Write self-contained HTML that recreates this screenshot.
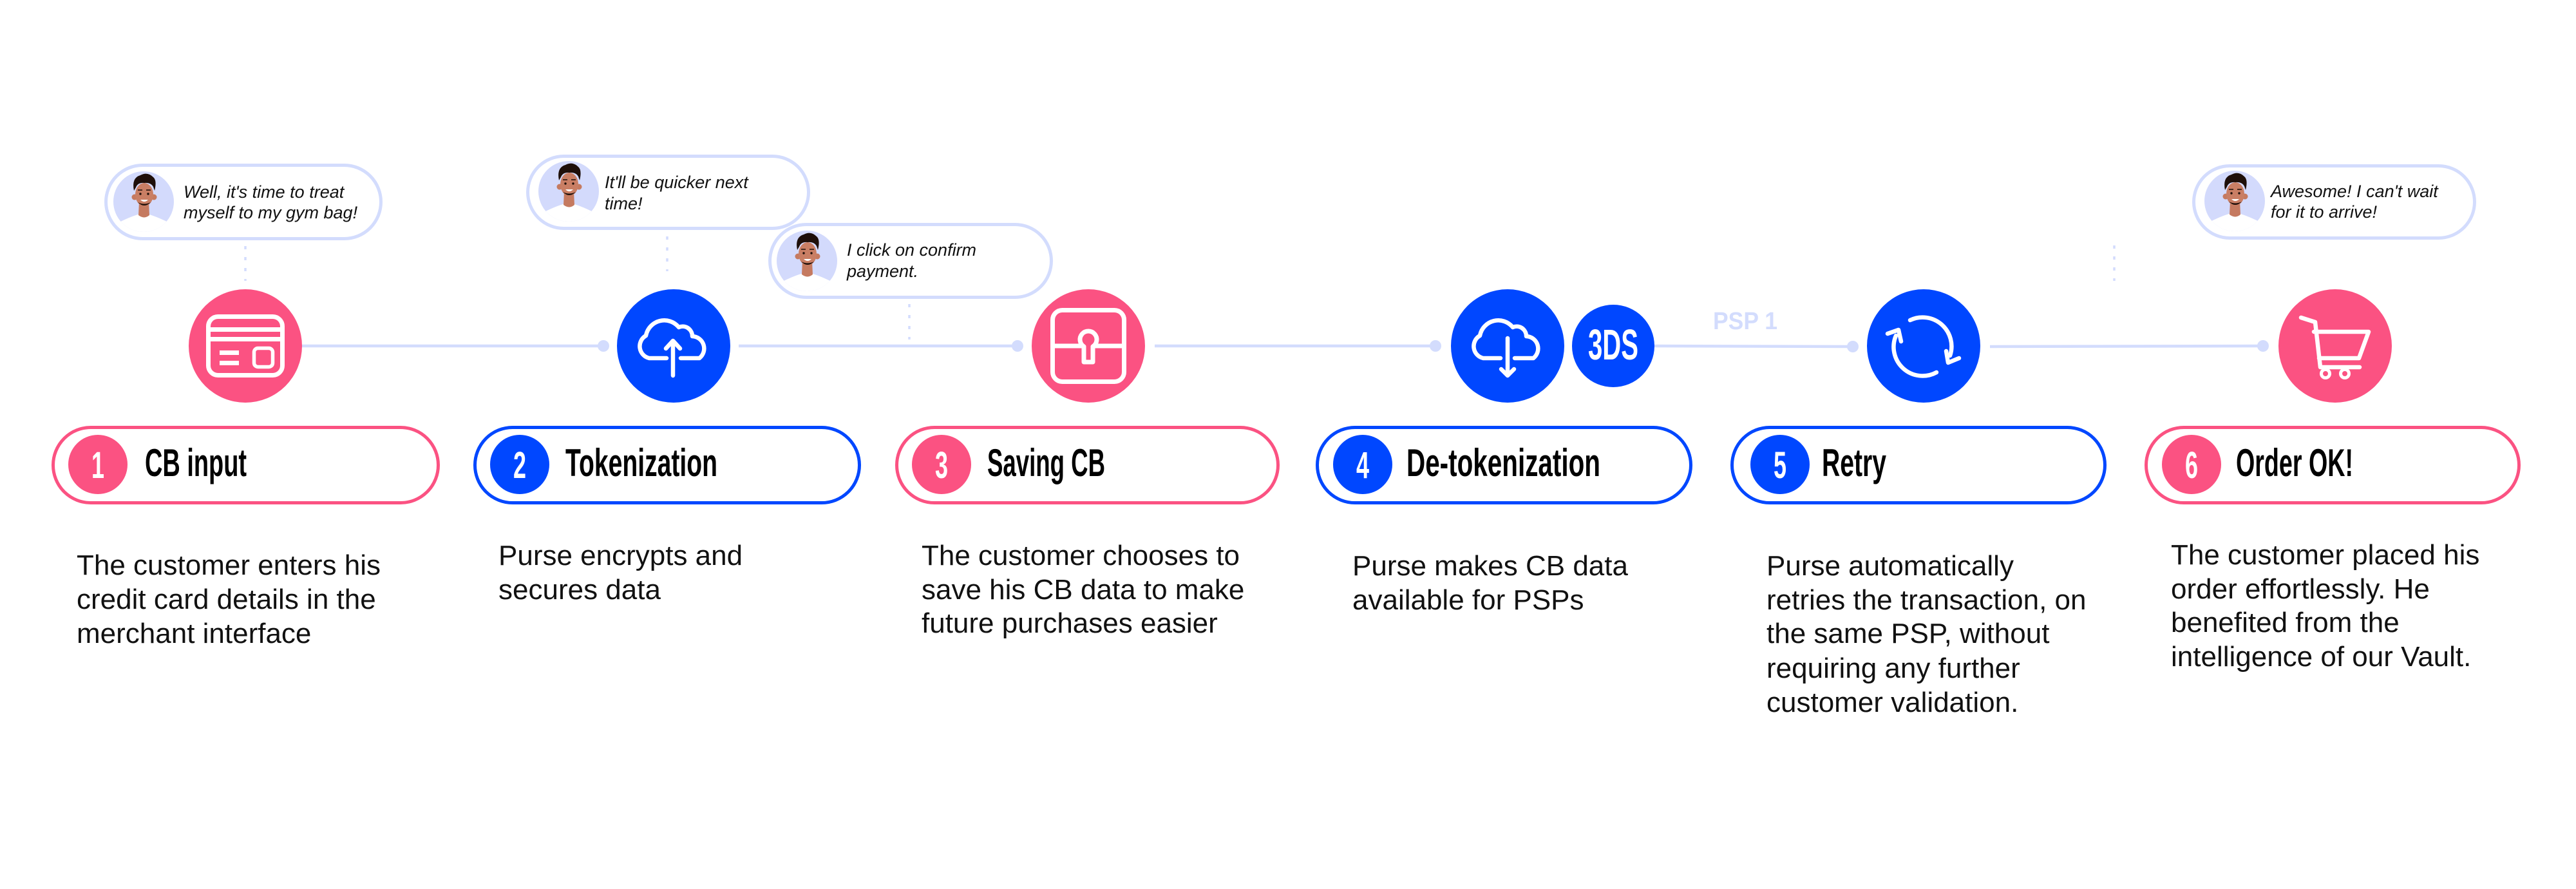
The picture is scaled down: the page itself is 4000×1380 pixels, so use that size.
<!DOCTYPE html>
<html>
<head>
<meta charset="utf-8">
<style>
  html,body{margin:0;padding:0;background:#fff;}
  body{width:4000px;height:1380px;overflow:hidden;}
  svg{display:block;}
  .desc{font-family:"Liberation Sans",Arial,sans-serif;font-size:44px;fill:#111;}
  .bub{font-family:"Liberation Sans",Arial,sans-serif;font-size:27px;font-style:italic;fill:#111;}
  .ttl{font-family:"Liberation Sans",Arial,sans-serif;font-size:60px;font-weight:bold;fill:#000;}
  .num{font-family:"Liberation Sans",Arial,sans-serif;font-size:58px;font-weight:bold;fill:#fff;}
</style>
</head>
<body>
<svg width="4000" height="1380" viewBox="0 0 4000 1380" xmlns="http://www.w3.org/2000/svg">
  <defs>
    <clipPath id="avc"><circle cx="0" cy="0" r="47"/></clipPath>
    <g id="av">
      <circle cx="0" cy="0" r="47" fill="#d3dafc"/>
      <g clip-path="url(#avc)">
        <path d="M-60 60 L-60 40 L-40 33 Q-22 24 -9 20 L9 20 Q22 24 40 33 L60 40 L60 60 Z" fill="#ffffff"/>
      </g>
      <path d="M-7 0 L8 0 L9 21 Q1 28 -8 21 Z" fill="#c57a60"/>
      <circle cx="-14" cy="-7" r="4.5" fill="#c57a60"/>
      <circle cx="16" cy="-7" r="4.5" fill="#c57a60"/>
      <ellipse cx="1" cy="-11" rx="14" ry="18" fill="#c97e64"/>
      <path d="M-9 1 Q1 11 11 1 Q1 6 -9 1 Z" fill="#1e0f0a"/>
      <path d="M-15 -17 Q-19 -37 -5 -41 Q6 -47 15 -38 Q21 -33 17 -17 L15 -23 Q11 -30 1 -29 Q-9 -30 -12 -22 Z" fill="#1e0f0a"/>
      <circle cx="-5" cy="-12" r="1.7" fill="#1e0f0a"/>
      <circle cx="7" cy="-12" r="1.7" fill="#1e0f0a"/>
      <path d="M-9 -18 L-2 -18 M4 -18 L11 -18" stroke="#1e0f0a" stroke-width="1.6"/>
      <path d="M-5 -3 Q1 3 7 -3 Z" fill="#ffffff"/>
    </g>
    <path id="cloud" d="M -11 19 L -38 19 A 19 19 0 0 1 -43 -16 A 29 29 0 0 1 8 -29 A 15 15 0 0 1 29 -15 A 19 19 0 0 1 40 19 L 11 19" fill="none" stroke="#fff" stroke-width="6.5" stroke-linecap="round" stroke-linejoin="round"/>
  </defs>

  <!-- connectors -->
  <g stroke="#d3dcfd" stroke-width="4.5" fill="none">
    <line x1="469" y1="537" x2="937" y2="537"/>
    <line x1="1147" y1="537" x2="1580" y2="537"/>
    <line x1="1793" y1="537" x2="2229" y2="537"/>
    <line x1="2560" y1="537" x2="2877" y2="538"/>
    <line x1="3090" y1="538" x2="3514" y2="537"/>
  </g>
  <g fill="#d3dcfd">
    <circle cx="937" cy="537" r="9"/>
    <circle cx="1580" cy="537" r="9"/>
    <circle cx="2229" cy="537" r="9"/>
    <circle cx="2877" cy="538" r="9"/>
    <circle cx="3514" cy="537" r="9"/>
  </g>

  <!-- dotted verticals -->
  <g stroke="#d3dcfd" stroke-width="3.5" stroke-dasharray="5 12" fill="none">
    <line x1="381" y1="382" x2="381" y2="436"/>
    <line x1="1036" y1="367" x2="1036" y2="421"/>
    <line x1="1412" y1="472" x2="1412" y2="527"/>
    <line x1="3283" y1="381" x2="3283" y2="436"/>
  </g>

  <!-- bubbles -->
  <g fill="#fff" stroke="#d3dcfd" stroke-width="5">
    <rect x="164.5" y="256.5" width="427" height="114" rx="57"/>
    <rect x="819.5" y="242.5" width="436" height="112" rx="56"/>
    <rect x="1195.5" y="348.5" width="437" height="113" rx="56.5"/>
    <rect x="3406.5" y="257.5" width="436" height="112" rx="56"/>
  </g>
  <use href="#av" x="223" y="313"/>
  <use href="#av" x="883" y="297"/>
  <use href="#av" x="1253" y="405"/>
  <use href="#av" x="3470" y="312"/>
  <text class="bub" x="285" y="307">Well, it's time to treat</text>
  <text class="bub" x="285" y="339">myself to my gym bag!</text>
  <text class="bub" x="939" y="292">It'll be quicker next</text>
  <text class="bub" x="939" y="325">time!</text>
  <text class="bub" x="1315" y="397">I click on confirm</text>
  <text class="bub" x="1315" y="430">payment.</text>
  <text class="bub" x="3526" y="306">Awesome! I can't wait</text>
  <text class="bub" x="3526" y="338">for it to arrive!</text>

  <!-- step circles -->
  <circle cx="381" cy="537" r="88" fill="#fb5282"/>
  <circle cx="1046" cy="537" r="88" fill="#0047ff"/>
  <circle cx="1690" cy="537" r="88" fill="#fb5282"/>
  <circle cx="2341" cy="537" r="88" fill="#0047ff"/>
  <circle cx="2505" cy="537" r="64" fill="#0047ff"/>
  <circle cx="2987" cy="537" r="88" fill="#0047ff"/>
  <circle cx="3626" cy="537" r="88" fill="#fb5282"/>

  <!-- card icon -->
  <g transform="translate(381,537)" fill="#fff">
    <rect x="-57.5" y="-45.5" width="115" height="91" rx="15" fill="none" stroke="#fff" stroke-width="7"/>
    <rect x="-58" y="-29" width="116" height="7"/>
    <rect x="-58" y="-14" width="116" height="7"/>
    <rect x="-40" y="7" width="30" height="7"/>
    <rect x="-40" y="23" width="30" height="7"/>
    <rect x="13.5" y="3.5" width="29" height="29" rx="6" fill="none" stroke="#fff" stroke-width="5.5"/>
  </g>

  <!-- upload cloud -->
  <g transform="translate(1046,537)">
    <use href="#cloud"/>
    <path d="M -1 46 L -1 -8 M -12 4 L -1 -8 L 10 4" fill="none" stroke="#fff" stroke-width="6.5" stroke-linecap="round" stroke-linejoin="round"/>
  </g>

  <!-- lock -->
  <g transform="translate(1690,537)" fill="none" stroke="#fff" stroke-width="7">
    <rect x="-55.5" y="-55.5" width="111" height="111" rx="15"/>
    <line x1="-55" y1="0" x2="-8" y2="0"/>
    <line x1="8" y1="0" x2="55" y2="0"/>
    <path d="M -7 1 A 13 13 0 1 1 7 1 L 7 25 L -7 25 Z" fill="#fb5282" stroke-linejoin="round"/>
  </g>

  <!-- download cloud -->
  <g transform="translate(2341,537)">
    <use href="#cloud"/>
    <path d="M 0 -12 L 0 46 M -10 36 L 0 46 L 10 36" fill="none" stroke="#fff" stroke-width="6.5" stroke-linecap="round" stroke-linejoin="round"/>
  </g>
  <text x="2466" y="558" textLength="78" lengthAdjust="spacingAndGlyphs" font-family="Liberation Sans, Arial, sans-serif" font-size="67" font-weight="bold" fill="#fff">3DS</text>

  <!-- PSP 1 -->
  <text x="2660" y="511" textLength="100" lengthAdjust="spacingAndGlyphs" font-family="Liberation Sans, Arial, sans-serif" font-size="38" font-weight="bold" fill="#d3dcfd">PSP 1</text>

  <!-- retry -->
  <g transform="translate(2987,537)" fill="none" stroke="#fff" stroke-width="6.5" stroke-linecap="round" stroke-linejoin="round">
    <path d="M -21 -40 A 45 45 0 0 1 41 15"/>
    <path d="M 35 8 L 38 26 L 55 19"/>
    <path d="M 20 41 A 45 45 0 0 1 -43 -16"/>
    <path d="M -56 -19 L -39 -25 L -35 -7"/>
  </g>

  <!-- cart -->
  <g transform="translate(3626,537)" fill="none" stroke="#fff" stroke-width="6.5" stroke-linecap="round" stroke-linejoin="round">
    <path d="M -53 -44 L -31 -37 L -23 33 L 38 33"/>
    <path d="M -33 -22 L 52 -22 L 37 19 L -25 19"/>
    <circle cx="-15" cy="43" r="6.5" stroke-width="5"/>
    <circle cx="15" cy="43" r="6.5" stroke-width="5"/>
  </g>

  <!-- pills -->
  <g fill="#fff" stroke-width="5">
    <rect x="82.5" y="663.5" width="598" height="117" rx="58.5" stroke="#fb5282"/>
    <rect x="737.5" y="663.5" width="597" height="117" rx="58.5" stroke="#0047ff"/>
    <rect x="1392.5" y="663.5" width="592" height="117" rx="58.5" stroke="#fb5282"/>
    <rect x="2045.5" y="663.5" width="580" height="117" rx="58.5" stroke="#0047ff"/>
    <rect x="2689.5" y="663.5" width="579" height="117" rx="58.5" stroke="#0047ff"/>
    <rect x="3332.5" y="663.5" width="579" height="117" rx="58.5" stroke="#fb5282"/>
  </g>
  <circle cx="152" cy="721" r="46" fill="#fb5282"/>
  <circle cx="807" cy="721" r="46" fill="#0047ff"/>
  <circle cx="1462" cy="721" r="46" fill="#fb5282"/>
  <circle cx="2116" cy="721" r="46" fill="#0047ff"/>
  <circle cx="2764" cy="721" r="46" fill="#0047ff"/>
  <circle cx="3403" cy="721" r="46" fill="#fb5282"/>
  <text class="num" text-anchor="middle" transform="translate(152,742) scale(0.62,1)">1</text>
  <text class="num" text-anchor="middle" transform="translate(807,742) scale(0.62,1)">2</text>
  <text class="num" text-anchor="middle" transform="translate(1462,742) scale(0.62,1)">3</text>
  <text class="num" text-anchor="middle" transform="translate(2116,742) scale(0.62,1)">4</text>
  <text class="num" text-anchor="middle" transform="translate(2764,742) scale(0.62,1)">5</text>
  <text class="num" text-anchor="middle" transform="translate(3403,742) scale(0.62,1)">6</text>

  <text class="ttl" x="225" y="739" textLength="158" lengthAdjust="spacingAndGlyphs">CB input</text>
  <text class="ttl" x="878" y="739" textLength="236" lengthAdjust="spacingAndGlyphs">Tokenization</text>
  <text class="ttl" x="1533" y="739" textLength="183" lengthAdjust="spacingAndGlyphs">Saving CB</text>
  <text class="ttl" x="2184" y="739" textLength="301" lengthAdjust="spacingAndGlyphs">De-tokenization</text>
  <text class="ttl" x="2829" y="739" textLength="100" lengthAdjust="spacingAndGlyphs">Retry</text>
  <text class="ttl" x="3472" y="739" textLength="182" lengthAdjust="spacingAndGlyphs">Order OK!</text>

  <!-- descriptions -->
  <text class="desc" x="119" y="892">The customer enters his</text>
  <text class="desc" x="119" y="945">credit card details in the</text>
  <text class="desc" x="119" y="998">merchant interface</text>

  <text class="desc" x="774" y="877">Purse encrypts and</text>
  <text class="desc" x="774" y="930">secures data</text>

  <text class="desc" x="1431" y="877">The customer chooses to</text>
  <text class="desc" x="1431" y="930">save his CB data to make</text>
  <text class="desc" x="1431" y="982">future purchases easier</text>

  <text class="desc" x="2100" y="893">Purse makes CB data</text>
  <text class="desc" x="2100" y="946">available for PSPs</text>

  <text class="desc" x="2743" y="893">Purse automatically</text>
  <text class="desc" x="2743" y="946">retries the transaction, on</text>
  <text class="desc" x="2743" y="998">the same PSP, without</text>
  <text class="desc" x="2743" y="1052">requiring any further</text>
  <text class="desc" x="2743" y="1105">customer validation.</text>

  <text class="desc" x="3371" y="876">The customer placed his</text>
  <text class="desc" x="3371" y="929">order effortlessly. He</text>
  <text class="desc" x="3371" y="981">benefited from the</text>
  <text class="desc" x="3371" y="1034">intelligence of our Vault.</text>
</svg>
</body>
</html>
